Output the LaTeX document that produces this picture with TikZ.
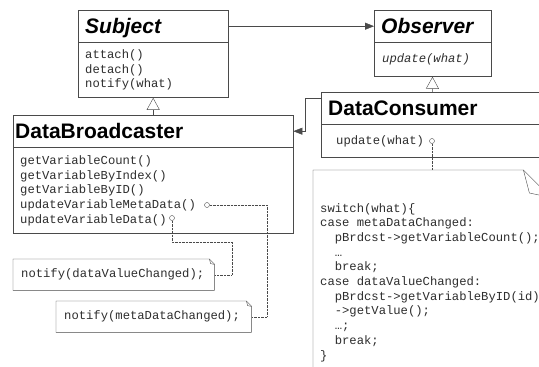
\documentclass[tikz,border=0pt]{standalone}
\usepackage{fontspec}
\setmainfont{Liberation Sans}
\newfontfamily\codefont{Liberation Mono}
\usetikzlibrary{arrows.meta,positioning}
\definecolor{umlline}{HTML}{4A4A4A}
\definecolor{umltext}{HTML}{2E2E2E}
\tikzset{
    classhead/.style={draw=umlline, anchor=north west, align=left, text width=#1,
        minimum height=32, inner xsep=7, text height=15, text depth=1,
        font=\fontsize{21}{24}\selectfont\bfseries},
    classops/.style={draw=umlline, anchor=north west, align=left, text width=#1,
        inner xsep=7, text=umltext, font=\codefont\fontsize{12.2}{14.7}\selectfont},
    notetext/.style={anchor=north west, align=left, text width=#1, minimum height=31,
        inner xsep=8, text=umltext, font=\codefont\fontsize{12.2}{14.7}\selectfont},
    port/.style={circle, draw=umlline, fill=white, inner sep=0, minimum size=5},
    assoc/.style={draw=umlline, -{Triangle[length=9,width=7]}},
    inherit/.style={draw=umlline, -{Triangle[open,length=12,width=13,fill=white]}},
    link/.style={draw=umlline, densely dotted}
}
% note outline with folded corner, #1 = node, #2 = ear size
\newcommand{\dogear}[2]{
    \draw[umlline] (#1.north west) -- ([xshift=-#2]#1.north east) -- ([yshift=-#2]#1.north east) -- (#1.south east) -- (#1.south west) -- cycle;
    \draw[umlline] ([xshift=-#2]#1.north east) -- ([xshift=-0.76*#2, yshift=-0.92*#2]#1.north east) -- ([yshift=-1.08*#2]#1.north east);
}

\begin{document}
\begin{tikzpicture}[x=1pt, y=-1pt]
    \clip (0,0) rectangle (539,367);
    \fill[white] (0,0) rectangle (539,367);

    % classes
    \node[classhead=136pt] (subj) at (78,10) {\textit{Subject}};
    \node[classops=136pt, minimum height=55] (subjops) at (subj.south west) {attach()\\detach()\\notify(what)};

    \node[classhead=103pt] (obs) at (374,10) {\textit{Observer}};
    \node[classops=101pt, inner xsep=8, minimum height=34] (obsops) at (obs.south west) {\textit{update(what)}};

    \node[classhead=276pt, inner xsep=2] (db) at (13,115) {DataBroadcaster};
    \node[classops=266pt, minimum height=86] (dbops) at (db.south west) {getVariableCount()\\getVariableByIndex()\\getVariableByID()\\updateVariableMetaData()\\updateVariableData()};

    \node[classhead=208pt] (dc) at (321,92) {DataConsumer};
    \node[classops=192pt, inner xsep=15, minimum height=33] (dcops) at (dc.south west) {update(what)};

    % relations
    \draw[assoc] (subj) -- (obs);
    \draw[inherit] (db) -- (subjops);
    \draw[inherit] (dc) -- (obsops);
    \draw[assoc] ([yshift=10]dc.west) -- ++(-16,0) |- (db.east);

    % notes
    \node[notetext=185pt] (valnote) at (13,259) {notify(dataValueChanged);};
    \dogear{valnote}{5}
    \node[notetext=179pt] (metanote) at (56,301) {notify(metaDataChanged);};
    \dogear{metanote}{5}

    \node[anchor=north west, minimum width=235, minimum height=230] (codenote) at (313,170) {};
    \dogear{codenote}{25}
    \node[anchor=north west, align=left, inner sep=0, text=umltext,
        font=\codefont\fontsize{12.2}{14.7}\selectfont] (code) at ([xshift=7, yshift=-33]codenote.north west)
        {switch(what)\{\\case metaDataChanged:\\\ \ pBrdcst->getVariableCount();\\\ \ \dots\\\ \ break;\\case dataValueChanged:\\\ \ pBrdcst->getVariableByID(id)\\\ \ ->getValue();\\\ \ \dots;\\\ \ break;\\\}};

    % ports and their dotted links
    \node[port] (pmeta) at (207,205) {};
    \node[port] (pdata) at (172,218) {};
    \node[port] (pupd) at (432,141) {};
    \draw[link] (pmeta) -- ++(60,0) |- (metanote);
    \draw[link] (pdata) |- ++(60,24) |- (valnote);
    \draw[link] (pupd) -- (pupd |- codenote.north);
\end{tikzpicture}
\end{document}
